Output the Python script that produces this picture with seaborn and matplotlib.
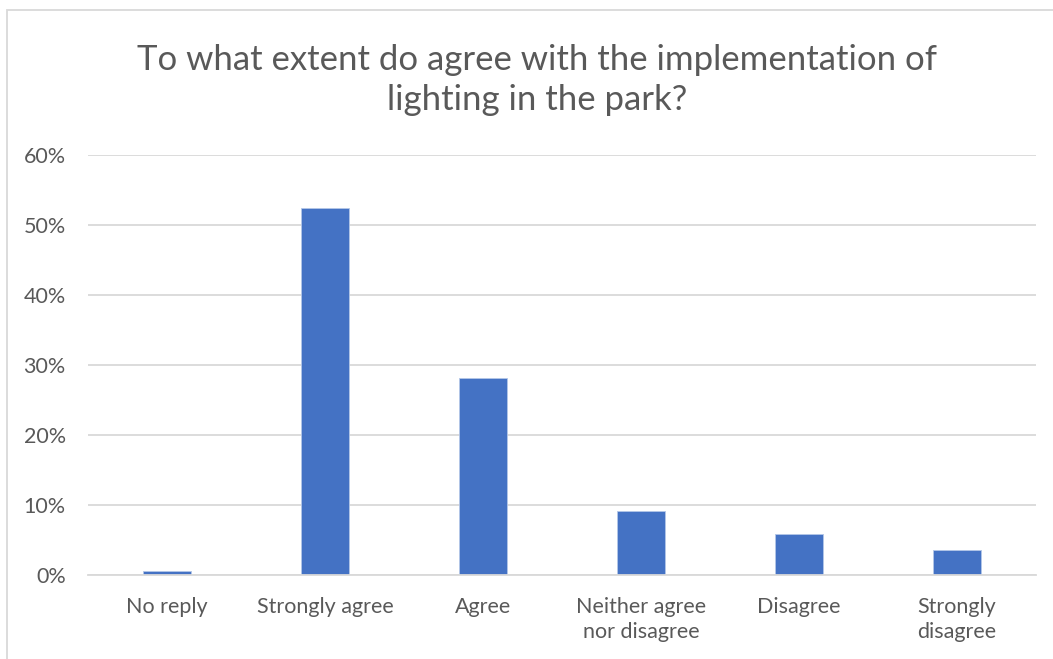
import matplotlib
matplotlib.use("Agg")
import matplotlib.pyplot as plt
import seaborn as sns
import pandas as pd
from matplotlib.patches import Rectangle
from matplotlib.ticker import PercentFormatter, MultipleLocator

categories = ["No reply", "Strongly agree", "Agree",
              "Neither agree\nnor disagree", "Disagree", "Strongly\ndisagree"]
shares = [0.6, 52.5, 28.1, 9.2, 5.8, 3.6]
title = "To what extent do agree with the implementation of\nlighting in the park?"

df = pd.DataFrame({"category": categories, "share": shares})

sns.set_theme(style="white")
plt.rcParams["font.family"] = ["Lato", "DejaVu Sans"]

text_color = "#595959"
grid_color = "#d9d9d9"
bar_color = "#4472C4"

fig = plt.figure(figsize=(10.53, 6.59), dpi=100)
W, H = 1053, 659
left, right, top, bottom = 88, 1036, 155, 575
ax = fig.add_axes([left / W, 1 - bottom / H, (right - left) / W, (bottom - top) / H])

sns.barplot(data=df, x="category", y="share", color=bar_color, width=0.31,
            saturation=1, ax=ax, edgecolor="#b4c7e7", linewidth=0.6)

ax.set_ylim(0, 60)
ax.yaxis.set_major_locator(MultipleLocator(10))
ax.yaxis.set_major_formatter(PercentFormatter(decimals=0))
ax.grid(axis="y", color=grid_color, linewidth=1.3)
ax.set_axisbelow(True)
for s in ["left", "right", "top"]:
    ax.spines[s].set_visible(False)
ax.spines["bottom"].set_color(grid_color)
ax.spines["bottom"].set_linewidth(1.3)
ax.set_xlabel("")
ax.set_ylabel("")
ax.tick_params(axis="y", length=0, pad=16, labelsize=15.5, labelcolor=text_color)
ax.tick_params(axis="x", length=0, pad=15.5, labelsize=15.5, labelcolor=text_color)
for lab in ax.get_xticklabels():
    lab.set_linespacing(1.35)

fig.text(537 / W, 1 - 80 / H, title, ha="center", va="center",
         fontsize=25, color=text_color, linespacing=1.34)

# chart frame
fig.patches.append(Rectangle((7 / W, -0.05), 1.1, 1 - 9.5 / H + 0.05,
                             transform=fig.transFigure, fill=False,
                             edgecolor="#d9d9d9", linewidth=1.3))

fig.savefig("out.png", dpi=100, facecolor="white")
